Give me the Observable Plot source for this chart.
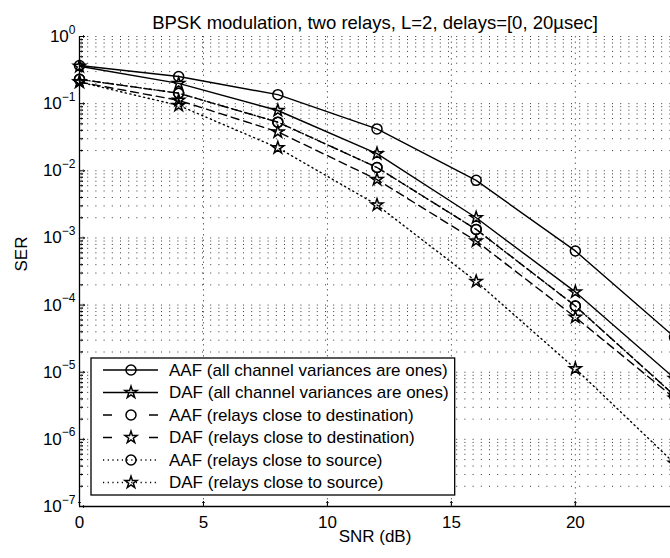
<!DOCTYPE html>
<html><head><meta charset="utf-8">
<script src="https://cdn.jsdelivr.net/npm/d3@7"></script>
<script src="https://cdn.jsdelivr.net/npm/@observablehq/plot@0.6"></script>
<style>
html,body{margin:0;padding:0;background:#fff;overflow:hidden;}
#chart svg{font-family:"Liberation Sans",Arial,sans-serif;}
</style></head><body><div id="chart"></div>
<script>
// ---- data ----
const snr = [0, 4, 8, 12, 16, 20, 24];
const aafAll  = [0.37, 0.254, 0.136, 0.042, 0.0072, 0.00064, 3.35e-5];
const dafAll  = [0.36, 0.20, 0.079, 0.018, 0.0020, 0.000157, 8.1e-6];
const aafDest = [0.23, 0.143, 0.053, 0.0112, 0.00134, 9.7e-5, 4.5e-6];
const dafDest = [0.21, 0.112, 0.038, 0.0074, 0.00090, 6.6e-5, 4.1e-6];
const aafSrc  = [0.23, 0.143, 0.053, 0.0112, 0.00134, 9.7e-5, 4.5e-6];
const dafSrc  = [0.21, 0.094, 0.022, 0.0031, 0.000225, 1.13e-5, 4.4e-7];
const seriesLabels = [
  "AAF (all channel variances are ones)",
  "DAF (all channel variances are ones)",
  "AAF (relays close to destination)",
  "DAF (relays close to destination)",
  "AAF (relays close to source)",
  "DAF (relays close to source)"
];
const xTicks = [0, 5, 10, 15, 20];
const yExponents = [0, -1, -2, -3, -4, -5, -6, -7];
const titleText = "BPSK modulation, two relays, L=2, delays=[0, 20\u00B5sec]";
const xLabel = "SNR (dB)";
const yLabel = "SER";

// ---- styles ----
const seriesValues = [aafAll, dafAll, aafDest, dafDest, aafSrc, dafSrc];
const dashes = [null, null, "8,5", "8,5", "1.2,3.5", "1.2,3.5"];
const symbols = ["circle", "star", "circle", "star", "circle", "star"];
const rads = {circle: 5, star: 3.8};

const rows = [];
seriesValues.forEach((vals, k) => vals.forEach((v, i) => rows.push({snr: snr[i], ser: v, k})));

const yTicks = yExponents.map(e => Math.pow(10, e));
const yMinor = [];
for (let e = -7; e < 0; e++) for (let m = 2; m <= 9; m++) yMinor.push(m * Math.pow(10, e));
const yAll = yTicks.concat(yMinor);

const FS = 17;
const marks = [
  Plot.ruleY(yAll, {stroke: "#000", strokeOpacity: 0.8, strokeWidth: 1, strokeDasharray: "1,7.2"}),
  Plot.ruleX(xTicks.slice(1), {stroke: "#000", strokeOpacity: 0.6, strokeWidth: 1, strokeDasharray: "1.5,4"}),
];
seriesValues.forEach((_, k) => {
  const d = rows.filter(r => r.k === k);
  marks.push(Plot.line(d, {x: "snr", y: "ser", stroke: "#000", strokeWidth: 1.4, strokeDasharray: dashes[k]}));
});
seriesValues.forEach((_, k) => {
  const d = rows.filter(r => r.k === k);
  marks.push(Plot.dot(d, {x: "snr", y: "ser", symbol: symbols[k], r: rads[symbols[k]], stroke: "#000", strokeWidth: 1.5, fill: "none"}));
});
marks.push(
  Plot.ruleX([0], {stroke: "#000", strokeWidth: 1.3}),
  Plot.ruleY([1e-7], {stroke: "#000", strokeWidth: 1.3}),
  // inward ticks
  Plot.vector(yTicks, {x: 0, y: d => d, length: 5, rotate: 90, anchor: "start", stroke: "#000", strokeWidth: 1}),
  Plot.vector(yMinor, {x: 0, y: d => d, length: 3, rotate: 90, anchor: "start", stroke: "#000", strokeWidth: 1}),
  Plot.vector(xTicks, {x: d => d, y: 1e-7, length: 5, rotate: 0, anchor: "start", stroke: "#000", strokeWidth: 1}),
  Plot.axisX(xTicks, {tickSize: 0, tickPadding: 9, fontSize: FS, tickFormat: d => String(d), label: null}),
  Plot.axisY(yTicks, {anchor: "left", tickSize: 0, tickPadding: 4, fontSize: FS, tickFormat: d => "10^" + Math.round(Math.log10(d)), label: null}),
  Plot.text([xLabel], {frameAnchor: "bottom", dy: 35, fontSize: FS, text: d => d}),
  Plot.text([yLabel], {frameAnchor: "left", dx: -58, rotate: -90, fontSize: FS, text: d => d}),
  Plot.text([titleText], {frameAnchor: "top", dy: -21, fontSize: 18.5, text: d => d})
);

const svg = Plot.plot({
  width: 670, height: 558,
  marginLeft: 79, marginRight: 0, marginTop: 36, marginBottom: 52,
  x: {domain: [0, 24], range: [79, 674]},
  y: {type: "log", domain: [1e-7, 1]},
  style: {background: "#fff", color: "#000", fontFamily: "Liberation Sans, Arial, sans-serif"},
  marks
});
document.getElementById("chart").appendChild(svg);

// superscript exponents on y tick labels
d3.select(svg).selectAll('g[aria-label="y-axis tick label"] text').each(function() {
  const t = d3.select(this);
  const [b, e] = t.text().split("^");
  t.text(null);
  t.append("tspan").text(b);
  t.append("tspan").attr("dy", "-0.7em").attr("font-size", "12px").text(e.replace("-", "\u2212"));
});

// legend
const sel = d3.select(svg);
const lg = sel.append("g").attr("font-size", FS).attr("text-anchor", "start").attr("font-family", "Liberation Sans, Arial, sans-serif");
const lx = 91, ly = 358, rowH = 22.5, x0 = 103, x1 = 158, xm = 131, xt = 169;
const box = lg.append("rect").attr("x", lx).attr("y", ly).attr("height", rowH * 6 + 2).attr("fill", "#fff").attr("stroke", "#000").attr("stroke-width", 1.3);
let maxW = 0;
seriesLabels.forEach((lab, k) => {
  const yy = ly + 12 + rowH * k;
  const ln = lg.append("line").attr("x1", x0).attr("x2", x1).attr("y1", yy).attr("y2", yy).attr("stroke", "#000").attr("stroke-width", 1.4);
  if (dashes[k]) ln.attr("stroke-dasharray", k < 4 ? "9,37,9" : "1.2,3.5");
  const r = rads[symbols[k]];
  const sym = symbols[k] === "circle" ? d3.symbolCircle : d3.symbolStar;
  lg.append("path").attr("d", d3.symbol(sym, Math.PI * r * r)()).attr("transform", `translate(${xm},${yy})`)
    .attr("fill", "none").attr("stroke", "#000").attr("stroke-width", 1.5);
  const tx = lg.append("text").attr("x", xt).attr("y", yy).attr("dy", "0.35em").text(lab);
  maxW = Math.max(maxW, tx.node().getComputedTextLength());
});
box.attr("width", xt + maxW + 6 - lx);
</script></body></html>
